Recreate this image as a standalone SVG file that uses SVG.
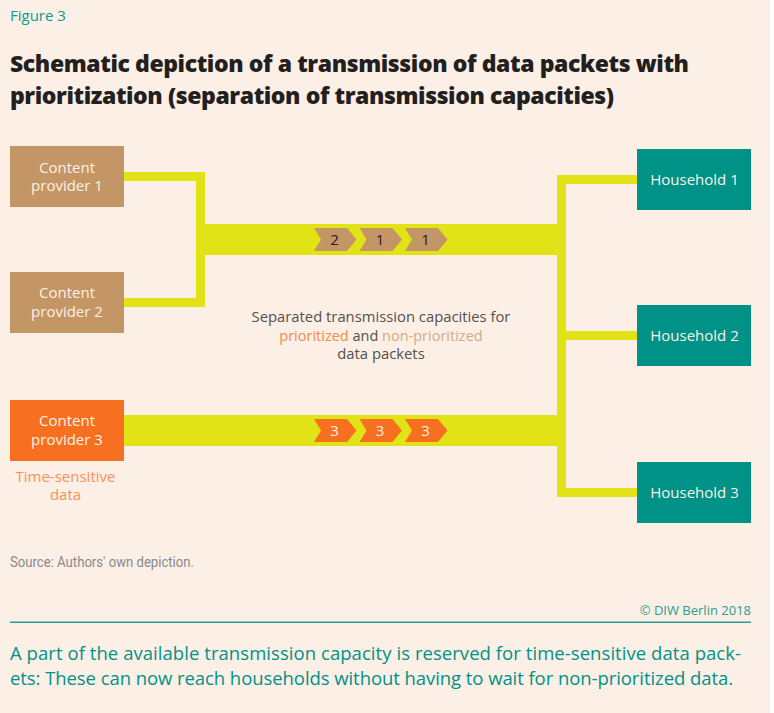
<svg xmlns="http://www.w3.org/2000/svg" width="774" height="713" viewBox="0 0 774 713">
<style>
text{font-family:"Open Sans","Noto Sans",sans-serif}
.box{font-size:15px;fill:#fdf0e6;text-anchor:middle}
.bar{fill:#e2e316}
.mid{font-size:14.8px;fill:#55504d;text-anchor:middle}
.num{font-size:15px;text-anchor:middle}
.teal{fill:#009286}
.tan{fill:#c49565}
.org{fill:#f77021}
.title{font-size:23px;font-weight:800;fill:#231f20}
.lead{font-size:18.500px;fill:#009286}
</style>
<rect width="774" height="713" fill="#fff"/>
<rect width="770" height="713" fill="#fcefe6"/>
<text x="10" y="21" font-size="15" font-weight="500" fill="#0a9c90">Figure 3</text>
<text class="title" x="10" y="72" textLength="679">Schematic depiction of a transmission of data packets with</text>
<text class="title" x="10" y="104" textLength="604">prioritization (separation of transmission capacities)</text>
<g id="connectors">
<path class="bar" d="M124 172H205V224H557V175H637V184H566V331H637V340H566V488H637V497H557V446H124V415H557V255H205V307H124V298H196V181H124Z"/>
</g>
<g id="provider1"><rect class="tan" x="10" y="146" width="114" height="61"/><text class="box" x="67" y="173">Content</text><text class="box" x="67" y="191">provider 1</text></g>
<g id="provider2"><rect class="tan" x="10" y="272" width="114" height="61"/><text class="box" x="67" y="298">Content</text><text class="box" x="67" y="317">provider 2</text></g>
<g id="provider3"><rect class="org" x="10" y="400" width="114" height="61"/><text class="box" x="67" y="426">Content</text><text class="box" x="67" y="445">provider 3</text></g>
<g id="time-sensitive"><text x="65.500" y="482" font-size="15" fill="#f9925a" text-anchor="middle">Time-sensitive</text><text x="65.500" y="500" font-size="15" fill="#f9925a" text-anchor="middle">data</text></g>
<g id="household1"><rect class="teal" x="637" y="149" width="114" height="61"/><text class="box" x="694.500" y="184.500">Household 1</text></g>
<g id="household2"><rect class="teal" x="637" y="305" width="114" height="61"/><text class="box" x="694.500" y="340.500">Household 2</text></g>
<g id="household3"><rect class="teal" x="637" y="462" width="114" height="61"/><text class="box" x="694.500" y="497.500">Household 3</text></g>
<defs><path id="pk" d="M0 0H33L42.500 11.500L33 23H0L7 11.500Z"/></defs>
<g id="packets">
<use href="#pk" x="314" y="228" class="tan"/><use href="#pk" x="359.500" y="228" class="tan"/><use href="#pk" x="405" y="228" class="tan"/>
<use href="#pk" x="314" y="419" class="org"/><use href="#pk" x="359.500" y="419" class="org"/><use href="#pk" x="405" y="419" class="org"/>
<text class="num" x="334.500" y="244.500" fill="#231f20">2</text><text class="num" x="380" y="244.500" fill="#231f20">1</text><text class="num" x="425.500" y="244.500" fill="#231f20">1</text>
<text class="num" x="334.500" y="435.500" fill="#fdf0e6">3</text><text class="num" x="380" y="435.500" fill="#fdf0e6">3</text><text class="num" x="425.500" y="435.500" fill="#fdf0e6">3</text>
</g>
<g id="caption">
<text class="mid" x="381" y="322">Separated transmission capacities for</text>
<text class="mid" x="381" y="341" style="font-size:14.500px"><tspan fill="#f98a4d">prioritized</tspan> and <tspan fill="#d3ab85">non-prioritized</tspan></text>
<text class="mid" x="381" y="359">data packets</text>
</g>
<text x="10" y="567" font-size="14" fill="#8a8a8a" style="font-family:Roboto,sans-serif" textLength="184" lengthAdjust="spacingAndGlyphs">Source: Authors' own depiction.</text>
<text x="751" y="615" font-size="13" fill="#2a9d92" text-anchor="end">© DIW Berlin 2018</text>
<rect x="10" y="621.500" width="741" height="1.500" fill="#2a9d92"/>
<text class="lead" x="10" y="660" textLength="731">A part of the available transmission capacity is reserved for time-sensitive data pack-</text>
<text class="lead" x="10" y="685" textLength="723">ets: These can now reach households without having to wait for non-prioritized data.</text>
</svg>
